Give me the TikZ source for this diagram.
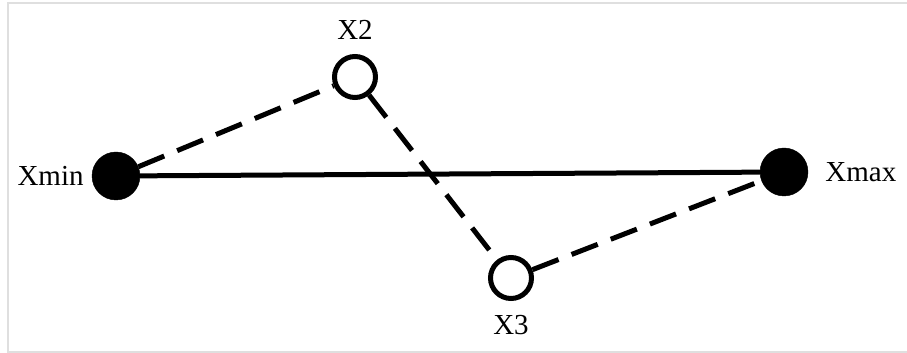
\documentclass[tikz,border=0pt]{standalone}
\usepackage{fontspec}
\setmainfont{Liberation Serif}
\usetikzlibrary{positioning}

\tikzset{
  endpt/.style={draw,circle,fill=black,minimum size=48pt,inner sep=0pt},
  midpt/.style={draw,circle,fill=white,line width=5pt,minimum size=41pt,inner sep=0pt},
  lbl/.style={font=\fontsize{29}{34}\selectfont,inner sep=0pt},
  link/.style={line width=5pt,dash pattern=on 28pt off 14pt}
}

\begin{document}
\begin{tikzpicture}[x=1pt,y=1pt]
\useasboundingbox (0,0) rectangle (907,353);

% frame
\draw[gray!25,line width=1.5pt] (907,350) -- (8,350) -- (8,1) -- (907,1);

% points
\node[endpt] (xmin) at (116,177) {};
\node[endpt] (xmax) at (784,181) {};
\node[midpt] (x2) at (355,276) {};
\node[midpt] (x3) at (511,75) {};

% labels
\node[lbl,left=8pt of xmin] (lmin) {Xmin};
\node[lbl,right=17pt of xmax] (lmax) {Xmax};
\node[lbl,above=14pt of x2] (l2) {X2};
\node[lbl,below=14pt of x3] (l3) {X3};

% segments
\draw[line width=5pt] (xmin) -- (xmax);
\draw[link] (xmin) -- (x2);
\draw[link] (x2) -- (x3);
\draw[link] (x3) -- (xmax);

\end{tikzpicture}
\end{document}
